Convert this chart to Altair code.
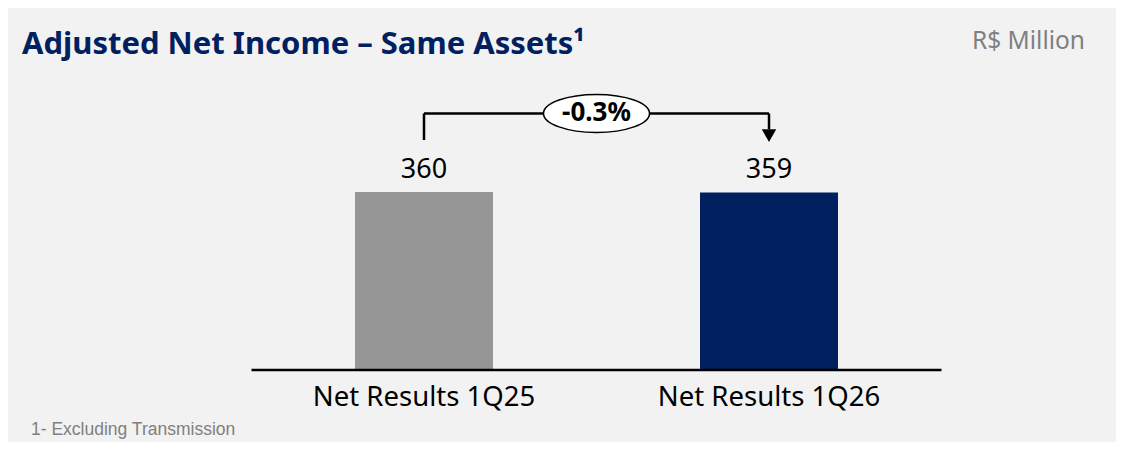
import altair as alt
import pandas as pd

categories = ["Net Results 1Q25", "Net Results 1Q26"]
values = [360, 359]
bar_colors = ["#969696", "#002060"]
change_label = "-0.3%"
title_text = "Adjusted Net Income – Same Assets¹"
unit_text = "R$ Million"
footnote_text = "1- Excluding Transmission"

idx = list(range(len(categories)))
bars = pd.DataFrame({
    "cat": categories,
    "value": values,
    "x0": [i - 0.2 for i in idx],
    "x1": [i + 0.2 for i in idx],
    "idx": idx,
    "color": bar_colors,
})

W, H = 1108, 434
PX = 0.494444
xs = alt.Scale(domain=[-416 / 345, (W - 416) / 345], nice=False, zero=False)
ys = alt.Scale(domain=[(362 - H) / PX, 362 / PX], nice=False, zero=False)
X = lambda f: alt.X(f, type="quantitative", scale=xs, axis=None)
Y = lambda f: alt.Y(f, type="quantitative", scale=ys, axis=None)

bar = alt.Chart(bars).mark_bar().encode(
    x=X("x0"), x2="x1", y=Y("value"), y2=alt.datum(0),
    color=alt.Color("color:N", scale=None),
)

val_txt = alt.Chart(bars).mark_text(
    font="Noto Sans", fontSize=27, color="#000000", baseline="middle"
).encode(x=X("idx"), y=alt.value(162), text=alt.Text("value:Q"))

cat_txt = alt.Chart(bars).mark_text(
    font="Noto Sans", fontSize=27.5, color="#000000", baseline="middle"
).encode(x=X("idx"), y=alt.value(390), text="cat:N")

base = pd.DataFrame({"a": [-0.5], "b": [1.5], "y": [0]})
baseline = alt.Chart(base).mark_rule(color="#000000", strokeWidth=2.5).encode(
    x=X("a"), x2="b", y=Y("y")
)

top_y = 518.8
lines = pd.DataFrame({
    "xa": [idx[0], idx[0], idx[1]],
    "xb": [idx[0], idx[1], idx[1]],
    "ya": [465.2, top_y, top_y],
    "yb": [top_y, top_y, 487.0],
})
bracket = alt.Chart(lines).mark_rule(color="#000000", strokeWidth=2.5).encode(
    x=X("xa"), x2="xb", y=Y("ya"), y2="yb"
)

arrow = pd.DataFrame({"x": [idx[1]], "y": [474.0]})
head = alt.Chart(arrow).mark_point(
    shape="triangle-down", filled=True, color="#000000", size=210, opacity=1
).encode(x=X("x"), y=Y("y"))

ell_path = ("M -1 0 C -1 -0.198 -0.552 -0.358 0 -0.358 C 0.552 -0.358 1 -0.198 1 0 "
            "C 1 0.198 0.552 0.358 0 0.358 C -0.552 0.358 -1 0.198 -1 0 Z")
mid = pd.DataFrame({"x": [(idx[0] + idx[1]) / 2], "y": [top_y], "t": [change_label]})
ellipse = alt.Chart(mid).mark_point(
    shape=ell_path, filled=False, fill="#ffffff", fillOpacity=1, stroke="#000000",
    strokeWidth=1.5, size=106 * 106, opacity=1
).encode(x=X("x"), y=Y("y"))
chg_txt = alt.Chart(mid).mark_text(
    font="Noto Sans", fontWeight="bold", fontSize=26, color="#000000", baseline="middle"
).encode(x=X("x"), y=Y("y"), text="t:N")

title = alt.Chart(pd.DataFrame({"t": [title_text]})).mark_text(
    font="Noto Sans", fontWeight="bold", fontSize=31, color="#002060",
    align="left", baseline="middle"
).encode(x=alt.value(14), y=alt.value(37), text="t:N")

unit = alt.Chart(pd.DataFrame({"t": [unit_text]})).mark_text(
    font="Noto Sans", fontSize=24.5, color="#808080", align="right", baseline="middle"
).encode(x=alt.value(1077), y=alt.value(34), text="t:N")

foot = alt.Chart(pd.DataFrame({"t": [footnote_text]})).mark_text(
    font="Liberation Sans", fontSize=17.5, color="#808080", align="left", baseline="middle"
).encode(x=alt.value(23), y=alt.value(422), text="t:N")

chart = alt.layer(
    bar, baseline, bracket, head, ellipse, chg_txt, val_txt, cat_txt, title, unit, foot
).properties(
    width=W, height=H, background="#f2f2f2", padding=0,
    autosize=alt.AutoSizeParams(type="none"),
).configure_view(stroke=None)

chart.save("out.html", embed_options={"renderer": "svg", "actions": False})
